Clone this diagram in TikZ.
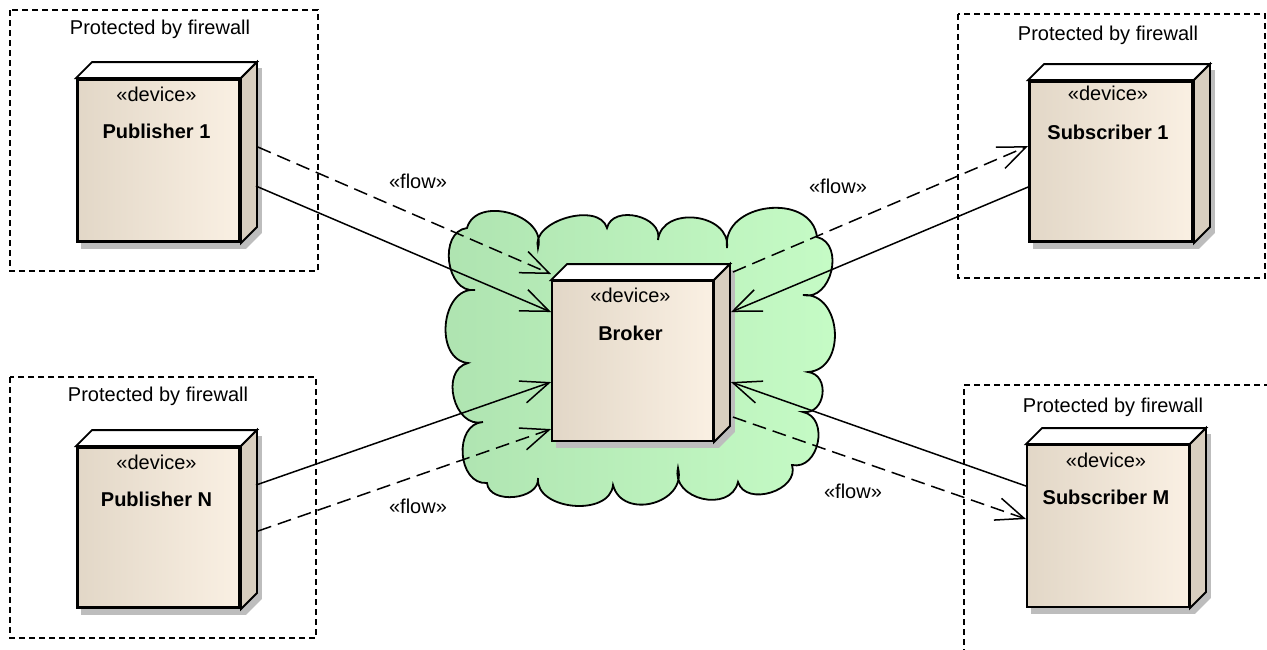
\documentclass[tikz,border=0pt]{standalone}
\usepackage{fontspec}
\setmainfont{Liberation Sans}
\usetikzlibrary{arrows.meta,calc,backgrounds}

\definecolor{faceL}{HTML}{E2D7C7}
\definecolor{faceR}{HTML}{FAF0E3}
\definecolor{sideC}{HTML}{D8CEBF}
\definecolor{shadowC}{HTML}{BDBDBD}
\definecolor{cloudL}{HTML}{AEE3B0}
\definecolor{cloudR}{HTML}{C6FCC6}

\newcommand\sizef{\fontsize{20}{24}\selectfont}

% depth of the 3D device boxes
\newcommand\dd{16}

% top face, side face and drop shadow of a device node
\newcommand\devfaces[1]{%
  \begin{pgfonlayer}{background}
    \fill[shadowC] ($(#1.south west)+(5,6)$) -- ($(#1.north west)+(5,6)$)
      -- ($(#1.north west)+(\dd+5,-\dd+6)$) -- ($(#1.north east)+(\dd+5,-\dd+6)$)
      -- ($(#1.south east)+(\dd+5,-\dd+6)$) -- ($(#1.south east)+(5,6)$) -- cycle;
  \end{pgfonlayer}
  \draw[face, fill=white] (#1.north west) -- ++(\dd,-\dd)
    -- ($(#1.north east)+(\dd,-\dd)$) -- (#1.north east) -- cycle;
  \draw[face, fill=sideC] (#1.north east) -- ++(\dd,-\dd)
    -- ($(#1.south east)+(\dd,-\dd)$) -- (#1.south east) -- cycle;
}
% inner frame line of a highlighted device
\newcommand\innerframe[1]{%
  \draw[line width=0.9pt] ($(#1.south west)+(2.6,-2.6)$) rectangle ($(#1.north east)+(-2.6,2.6)$);
}

\begin{document}
\begin{tikzpicture}[x=1pt, y=-1pt, font=\sizef,
  face/.style={line width=1.9pt, line join=miter},
  device/.style={rectangle, draw, line width=1.9pt, inner sep=0pt,
    left color=faceL, right color=faceR},
  stereo/.style={anchor=base, inner sep=0pt},
  devname/.style={anchor=base, inner sep=0pt, font=\sizef\bfseries},
  zone/.style={line width=1.5pt, dash pattern=on 6pt off 4pt},
  zonelabel/.style={anchor=base, inner sep=0pt},
  flowlabel/.style={inner sep=0pt},
  conn/.style={line width=1.5pt, -{Straight Barb[length=28pt,width=23pt]}},
  flowconn/.style={conn, dash pattern=on 14pt off 7pt},
]
\useasboundingbox (0,0) rectangle (1267,649);

% ---- network cloud around the broker
\begin{pgfonlayer}{background}
\draw[line width=1.8pt, left color=cloudL, right color=cloudR]
  (475,290) to[bend left=90, looseness=1.2] (467,228)
  to[bend left=90, looseness=1.2] (538,248)
  to[bend left=90, looseness=1.0] (607,228)
  to[bend left=90, looseness=1.2] (658,240)
  to[bend left=90, looseness=1.3] (727,248)
  to[bend left=90, looseness=1.3] (817,237)
  to[bend left=90, looseness=1.25] (803,295)
  to[bend left=90, looseness=1.3] (808,372)
  to[bend left=90, looseness=1.45] (803,412)
  to[bend left=90, looseness=1.3] (792,465)
  to[bend left=90, looseness=1.2] (738,482)
  to[bend left=90, looseness=1.35] (678,468)
  to[bend left=90, looseness=1.4] (613,485)
  to[bend left=90, looseness=1.1] (538,478)
  to[bend left=90, looseness=1.1] (487,483)
  to[bend left=90, looseness=1.25] (483,422)
  to[bend left=90, looseness=1.25] (468,363)
  to[bend left=90, looseness=1.2] (475,290) -- cycle;
\end{pgfonlayer}

% ---- firewall zones
\draw[zone] (10,10) rectangle (318,271);
\draw[zone] (10,377) rectangle (316,638);
\draw[zone] (958,14) rectangle (1265,278);
\draw[zone] (1270,385) -- (964,385) -- (964,652);
\node[zonelabel] (fw1) at (160,34) {Protected by firewall};
\node[zonelabel] (fw2) at (158,401) {Protected by firewall};
\node[zonelabel] (fw3) at (1108,40) {Protected by firewall};
\node[zonelabel] (fw4) at (1113,412) {Protected by firewall};

% ---- devices
\node[device, minimum width=163pt, minimum height=163pt] (pub1) at (158.5,160.5) {};
\node[device, minimum width=163pt, minimum height=161pt] (pubN) at (158.5,527.5) {};
\node[device, minimum width=164pt, minimum height=161pt] (sub1) at (1111,161.5) {};
\node[device, minimum width=162pt, minimum height=162pt] (subM) at (1108,526) {};
\node[device, minimum width=161pt, minimum height=160pt] (broker) at (632.5,361) {};

\foreach \d in {pub1,pubN,sub1,subM,broker} {\devfaces{\d}}
\foreach \d in {pub1,pubN,sub1} {\innerframe{\d}}

\node[stereo] (pub1-st) at ($(pub1.north)+(-2,23)$) {«device»};
\node[devname] (pub1-nm) at ($(pub1.north)+(-2,60)$) {Publisher 1};
\node[stereo] (pubN-st) at ($(pubN.north)+(-2,23)$) {«device»};
\node[devname] (pubN-nm) at ($(pubN.north)+(-2,60)$) {Publisher N};
\node[stereo] (sub1-st) at ($(sub1.north)+(-3,20)$) {«device»};
\node[devname] (sub1-nm) at ($(sub1.north)+(-3,59)$) {Subscriber 1};
\node[stereo] (subM-st) at ($(subM.north)+(-2,23)$) {«device»};
\node[devname] (subM-nm) at ($(subM.north)+(-2,60)$) {Subscriber M};
\node[stereo] (broker-st) at ($(broker.north)+(-2,22)$) {«device»};
\node[devname] (broker-nm) at ($(broker.north)+(-2,60)$) {Broker};

% ---- connectors
\draw[conn] ($(pub1.north east)+(15,108)$) -- ($(broker.north west)+(0,32)$);
\draw[flowconn] ($(pub1.north east)+(17,69)$) -- ($(broker.north west)+(0,-6)$);
\draw[conn] ($(pubN.north east)+(15,39)$) -- ($(broker.north west)+(0,102)$);
\draw[flowconn] ($(pubN.north east)+(17,85)$) -- ($(broker.north west)+(0,149)$);
\draw[conn] ($(sub1.north west)+(0,107)$) -- ($(broker.north east)+(17,32)$);
\draw[flowconn] ($(broker.north east)+(19,-8)$) -- ($(sub1.north west)+(0,66)$);
\draw[conn] ($(subM.north west)+(0,42)$) -- ($(broker.north east)+(17,102)$);
\draw[flowconn] ($(broker.north east)+(19,137)$) -- ($(subM.north west)+(0,75)$);

\node[flowlabel] (fl1) at (418,181) {«flow»};
\node[flowlabel] (fl2) at (838,186) {«flow»};
\node[flowlabel] (fl3) at (418,506) {«flow»};
\node[flowlabel] (fl4) at (853,491) {«flow»};
\end{tikzpicture}
\end{document}
